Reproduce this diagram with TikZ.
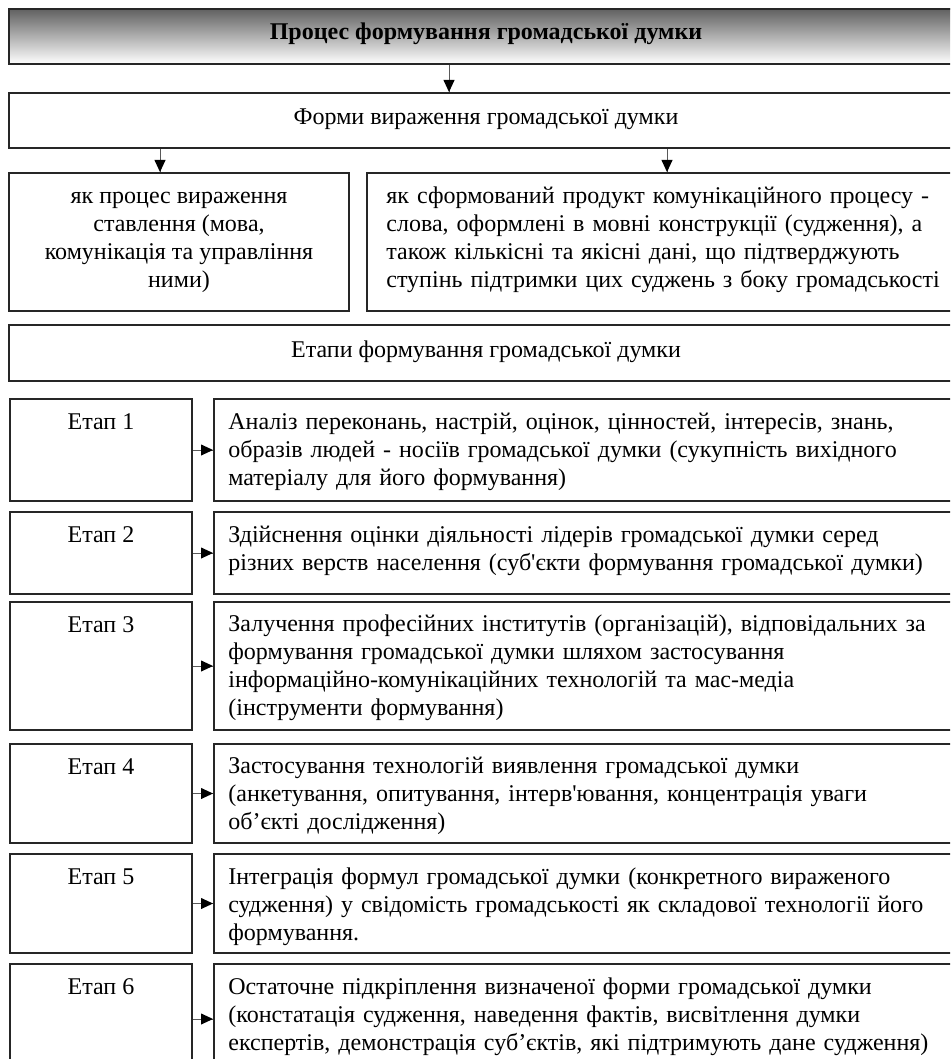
\documentclass[tikz,border=0pt]{standalone}
\usepackage{fontspec}
\setmainfont{Liberation Serif}
\usetikzlibrary{arrows}
\usetikzlibrary{decorations.markings}
\usetikzlibrary{positioning}
\tikzset{arw/.style = {draw=black!65, line width=0.5pt,
                       decoration={markings,
                                   mark=at position 1 with {\fill [black] (0, 0) -- (-6pt, 2.8pt) -- (-6pt, -2.8pt) -- cycle;}},
                       postaction={decorate}}}
\tikzset{box/.style = {draw=black!85, line width=1pt, rectangle, inner sep=0, anchor=north west}}
\tikzset{txt/.style = {inner sep=0, anchor=north west, align=left, text width=#1}}

\begin{document}
\begin{tikzpicture}[x=0.5pt, y=-0.5pt, font=\fontsize{12}{14}\selectfont]
      \useasboundingbox (0, 0) rectangle (950, 1059);
      \clip (0, 0) rectangle (950, 1059);

      \node [box, top color=black!62, bottom color=white, minimum width=496pt, minimum height=27.5pt] (title) at (8, 8) {};
      \node [font=\fontsize{12}{14}\selectfont\bfseries] (title-t) at (486, 34) {Процес формування громадської думки};

      \node [box, minimum width=496pt, minimum height=27.5pt] (forms) at (8, 92) {};
      \node (forms-t) at (486, 119) {Форми вираження громадської думки};

      \node [box, minimum width=170pt, minimum height=69pt, align=center] (left) at (8, 172) {як процес вираження\\ставлення (мова,\\комунікація та управління\\ними)};
      \node [box, minimum width=317pt, minimum height=69pt] (right) at (366, 172) {};
      \node [txt=300pt] (right-t) at (386, 186) {як сформований продукт комунікаційного процесу -\\слова, оформлені в мовні конструкції (судження), а\\також кількісні та якісні дані, що підтверджують\\ступінь підтримки цих суджень з боку громадськості};

      \node [box, minimum width=496pt, minimum height=28pt] (stages) at (8, 324) {};
      \node (stages-t) at (486, 352) {Етапи формування громадської думки};

      \draw [arw] ([xshift=-18.5pt]title-t.south |- title.south) -- ([xshift=-18.5pt]title-t.south |- forms.north);
      \draw [arw] ([xshift=-9.5pt]left.north |- forms.south) -- ([xshift=-9.5pt]left.north);
      \draw [arw] ([xshift=-8.5pt]right.north |- forms.south) -- ([xshift=-8.5pt]right.north);

      % stage 1
      \node [box, minimum width=91pt, minimum height=51pt] (st1) at (9, 398) {};
      \node [box, minimum width=394pt, minimum height=51pt] (ds1) at (213, 398) {};
      \node at ([yshift=-12pt]st1.north) {Етап 1};
      \node [txt=360pt] (ds1-t) at (228, 413) {Аналіз переконань, настрій, оцінок, цінностей, інтересів, знань,\\образів людей - носіїв громадської думки (сукупність вихідного\\матеріалу для його формування)};
      \draw [arw] (st1.east) -- (ds1.west);

      % stage 2
      \node [box, minimum width=91pt, minimum height=41pt] (st2) at (9, 511) {};
      \node [box, minimum width=394pt, minimum height=41pt] (ds2) at (213, 511) {};
      \node at ([yshift=-12pt]st2.north) {Етап 2};
      \node [txt=360pt] (ds2-t) at (228, 526) {Здійснення оцінки діяльності лідерів громадської думки серед\\різних верств населення (суб\textquotesingle єкти формування громадської думки)};
      \draw [arw] (st2.east) -- (ds2.west);

      % stage 3
      \node [box, minimum width=91pt, minimum height=64pt] (st3) at (9, 601) {};
      \node [box, minimum width=394pt, minimum height=64pt] (ds3) at (213, 601) {};
      \node at ([yshift=-12pt]st3.north) {Етап 3};
      \node [txt=360pt] (ds3-t) at (228, 614) {Залучення професійних інститутів (організацій), відповідальних за\\формування громадської думки шляхом застосування\\інформаційно-комунікаційних технологій та мас-медіа\\(інструменти формування)};
      \draw [arw] (st3.east) -- (ds3.west);

      % stage 4
      \node [box, minimum width=91pt, minimum height=49.5pt] (st4) at (9, 743) {};
      \node [box, minimum width=394pt, minimum height=49.5pt] (ds4) at (213, 743) {};
      \node at ([yshift=-12pt]st4.north) {Етап 4};
      \node [txt=360pt] (ds4-t) at (228, 757) {Застосування технологій виявлення громадської думки\\(анкетування, опитування, інтерв\textquotesingle ювання, концентрація уваги\\об’єкті дослідження)};
      \draw [arw] (st4.east) -- (ds4.west);

      % stage 5
      \node [box, minimum width=91pt, minimum height=49.5pt] (st5) at (9, 853) {};
      \node [box, minimum width=394pt, minimum height=49.5pt] (ds5) at (213, 853) {};
      \node at ([yshift=-12pt]st5.north) {Етап 5};
      \node [txt=360pt] (ds5-t) at (228, 867) {Інтеграція формул громадської думки (конкретного вираженого\\судження) у свідомість громадськості як складової технології його\\формування.};
      \draw [arw] (st5.east) -- (ds5.west);

      % stage 6
      \node [box, minimum width=91pt, minimum height=55pt] (st6) at (9, 963) {};
      \node [box, minimum width=394pt, minimum height=55pt] (ds6) at (213, 963) {};
      \node at ([yshift=-12pt]st6.north) {Етап 6};
      \node [txt=360pt] (ds6-t) at (228, 977) {Остаточне підкріплення визначеної форми громадської думки\\(констатація судження, наведення фактів, висвітлення думки\\експертів, демонстрація суб’єктів, які підтримують дане судження)};
      \draw [arw] (st6.east) -- (ds6.west);
    \end{tikzpicture}
\end{document}
